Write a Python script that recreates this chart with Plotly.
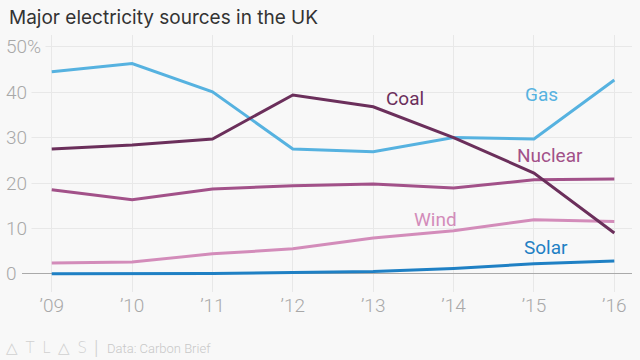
import plotly.graph_objects as go

years = [2009, 2010, 2011, 2012, 2013, 2014, 2015, 2016]
year_labels = ["\u201909", "\u201910", "\u201911", "\u201912", "\u201913", "\u201914", "\u201915", "\u201916"]
gas = [44.5, 46.3, 40.1, 27.5, 26.9, 30.0, 29.7, 42.7]
coal = [27.5, 28.4, 29.7, 39.4, 36.8, 30.0, 22.2, 9.0]
nuclear = [18.5, 16.3, 18.7, 19.4, 19.8, 18.9, 20.7, 20.9]
wind = [2.4, 2.6, 4.4, 5.5, 7.9, 9.5, 11.9, 11.5]
solar = [0.0, 0.0, 0.1, 0.3, 0.5, 1.2, 2.2, 2.8]
y_ticks = [0, 10, 20, 30, 40, 50]
y_tick_labels = ["0", "10", "20", "30", "40", "50%"]

series = [
    ("Wind", wind, "#d38cba", 2013.78, 12.0),
    ("Nuclear", nuclear, "#a25189", 2015.2, 26.0),
    ("Gas", gas, "#56b2e0", 2015.1, 39.5),
    ("Solar", solar, "#1f80c4", 2015.15, 5.8),
    ("Coal", coal, "#6b2f5b", 2013.4, 38.6),
]

BG = "#f8f8f8"
fig = go.Figure()
for name, vals, color, lx, ly in series:
    fig.add_trace(go.Scatter(x=years, y=vals, mode="lines", name=name,
                             line=dict(color=color, width=3), hoverinfo="skip"))
    fig.add_annotation(x=lx, y=ly, text=name, showarrow=False, xref="x", yref="y",
                       font=dict(family="Roboto", size=19, color=color))

for v, t in zip(y_ticks, y_tick_labels):
    fig.add_annotation(x=0, y=v, xref="paper", yref="y", text=t, showarrow=False,
                       xanchor="left", yanchor="middle", xshift=-21,
                       bgcolor=BG, borderpad=4,
                       font=dict(family="Roboto", size=19, color="#a8a8a8", weight=300))

fig.add_annotation(x=0, y=1, xref="paper", yref="paper", xanchor="left", yanchor="middle",
                   text="Major electricity sources in the UK", showarrow=False,
                   xshift=-15, yshift=18,
                   font=dict(family="Inter", size=19, color="#333333"))
fig.add_annotation(x=0, y=0, xref="paper", yref="paper", xanchor="left", yanchor="middle",
                   text="\u25b3\u2002T\u2002L\u2002\u25b3\u2002S", showarrow=False, xshift=-18, yshift=-56,
                   font=dict(family="DejaVu Sans", size=15, color="#d0d0d0", weight=300))
fig.add_annotation(x=0, y=0, xref="paper", yref="paper", xanchor="left", yanchor="middle",
                   text="|", showarrow=False, xshift=70, yshift=-56,
                   font=dict(family="Roboto", size=20, color="#d0d0d0", weight=300))
fig.add_annotation(x=0, y=0, xref="paper", yref="paper", xanchor="left", yanchor="middle",
                   text="Data: Carbon Brief", showarrow=False, xshift=83, yshift=-56,
                   font=dict(family="Roboto", size=13, color="#c8c8c8", weight=300))

fig.update_layout(
    width=640, height=360, paper_bgcolor=BG, plot_bgcolor=BG,
    margin=dict(l=22, r=8, t=35, b=68), showlegend=False,
    xaxis=dict(range=[2008.63, 2016.22], tickvals=years, ticktext=year_labels,
               showgrid=True, gridcolor="#e8e8e8", zeroline=False, showline=False,
               ticks="", tickfont=dict(family="Roboto", size=19, color="#a8a8a8", weight=300)),
    yaxis=dict(range=[-4, 52.6], tickvals=y_ticks, showticklabels=False,
               showgrid=True, gridcolor="#e8e8e8", zeroline=True, zerolinecolor="#aaaaaa",
               zerolinewidth=1, ticks=""),
)
fig.write_html("out.html", config={"displayModeBar": False})

with open("out.html", "r", encoding="utf-8") as f:
    html = f.read()
html = html.replace("<head>", "<head><style>html,body{margin:0;padding:0;overflow:hidden;background:#f8f8f8}</style>", 1)
with open("out.html", "w", encoding="utf-8") as f:
    f.write(html)
